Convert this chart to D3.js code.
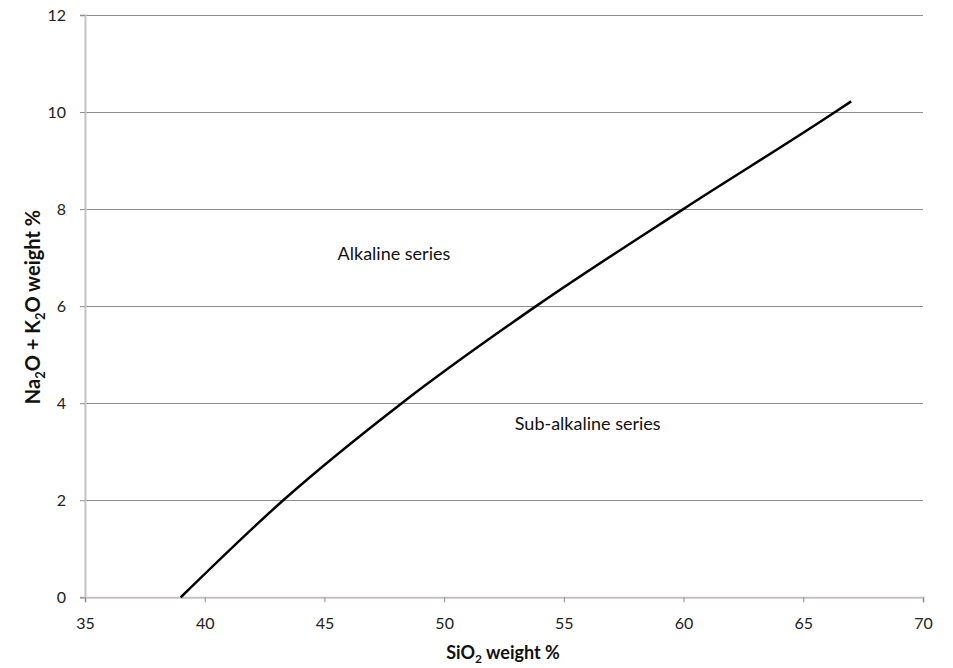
<!DOCTYPE html>
<html><head><meta charset="utf-8">
<script src="https://cdn.jsdelivr.net/npm/d3@7"></script>
<style>body{margin:0;background:#fff;} text{font-family:Lato,"Open Sans",sans-serif;}</style>
</head><body>
<svg id="c" width="953" height="668"></svg>
<script>
const silica = [39.0, 43.28, 48.23, 53.84, 59.99, 66.33, 67.0];
const alkali = [0, 2, 4, 6, 8, 10, 10.22];
const xTicks = [35, 40, 45, 50, 55, 60, 65, 70];
const yTicks = [0, 2, 4, 6, 8, 10, 12];
const labels = [
  {text: "Alkaline series", x: 45.55, y: 7.05},
  {text: "Sub-alkaline series", x: 52.95, y: 3.55}
];

const svg = d3.select("#c");
const x = d3.scaleLinear().domain([35, 70]).range([85, 923]);
const y = d3.scaleLinear().domain([0, 12]).range([597.3, 15]);

// gridlines
svg.append("g").selectAll("line").data(yTicks.filter(d => d > 0)).join("line")
  .attr("x1", x(35)).attr("x2", x(70))
  .attr("y1", d => Math.round(y(d)) + 0.5).attr("y2", d => Math.round(y(d)) + 0.5)
  .attr("stroke", "#8c8c8c").attr("stroke-width", 1);

// y axis
const ya = svg.append("g").attr("transform", `translate(${x(35)},0)`)
  .call(d3.axisLeft(y).tickValues(yTicks).tickSize(5).tickPadding(14).tickFormat(d3.format("d")));
ya.select(".domain").attr("stroke", "#c4c4c4").attr("stroke-width", 2);
ya.selectAll(".tick line").attr("stroke", "#8c8c8c");
ya.selectAll("text").attr("font-size", 16).attr("fill", "#222").style("font-family", "Lato, sans-serif");

// x axis
const xa = svg.append("g").attr("transform", `translate(0,${y(0)})`)
  .call(d3.axisBottom(x).tickValues(xTicks).tickSize(5).tickPadding(15).tickFormat(d3.format("d")));
xa.select(".domain").attr("stroke", "#c8bfc2").attr("stroke-width", 2);
xa.selectAll(".tick line").attr("stroke", "#8c8c8c");
xa.selectAll("text").attr("font-size", 16).attr("fill", "#222").style("font-family", "Lato, sans-serif");

// curve
const pts = silica.map((s, i) => [s, alkali[i]]);
svg.append("path").datum(pts)
  .attr("d", d3.line().x(d => x(d[0])).y(d => y(d[1])).curve(d3.curveMonotoneX))
  .attr("fill", "none").attr("stroke", "#000").attr("stroke-width", 2.5);

// labels
svg.append("g").selectAll("text").data(labels).join("text")
  .attr("x", d => x(d.x)).attr("y", d => y(d.y))
  .attr("font-size", 18).attr("fill", "#111").attr("dominant-baseline", "middle")
  .text(d => d.text);

// axis titles
const xt = svg.append("text").attr("x", 503).attr("y", 659).attr("text-anchor", "middle")
  .attr("font-size", 18).attr("font-weight", "bold").attr("fill", "#111");
xt.append("tspan").text("SiO");
xt.append("tspan").attr("font-size", 12).attr("dy", 4).text("2");
xt.append("tspan").attr("dy", -4).text(" weight %");

const yt = svg.append("text").attr("transform", "translate(40,307) rotate(-90)").attr("text-anchor", "middle")
  .attr("font-size", 20).attr("font-weight", "bold").attr("fill", "#111");
yt.append("tspan").text("Na");
yt.append("tspan").attr("font-size", 13).attr("dy", 5).text("2");
yt.append("tspan").attr("dy", -5).text("O + K");
yt.append("tspan").attr("font-size", 13).attr("dy", 5).text("2");
yt.append("tspan").attr("dy", -5).text("O weight %");
</script>
</body></html>
